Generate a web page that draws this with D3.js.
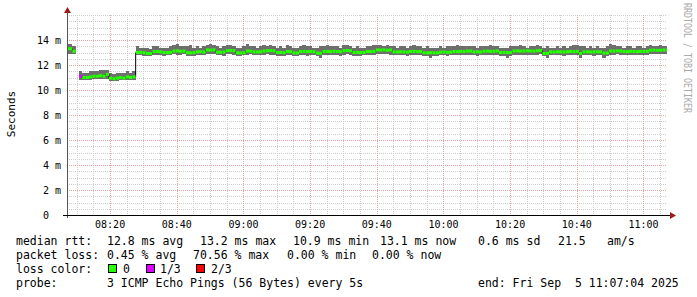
<!DOCTYPE html>
<html>
<head>
<meta charset="utf-8">
<script src="https://cdn.jsdelivr.net/npm/d3@7"></script>
<style>
  body { margin: 0; background: #fff; }
  text { font-family: "DejaVu Sans Mono", monospace; white-space: pre; }
</style>
</head>
<body>
<svg id="chart" width="697" height="297"></svg>
<script>
// ---- data (1 minute buckets, ms) ----
var firstSample = "2025-09-05T08:06:40Z";
var graphStart = "2025-09-05T08:07:04Z";
var graphEnd = "2025-09-05T11:07:04Z";

var median = [
  13.3, 13.3, 13.1, null,
  11.1, 11.0, 11.0, 11.05, 11.1, 11.1, 11.15, 11.1, 11.25, 10.95, 10.9, 10.95, 11.0, 10.95, 11.05, 11.0, 11.05,
  13.00, 13.02, 12.98, 12.93, 12.92, 13.07, 13.08, 13.05, 13.00, 12.99,
  13.01, 13.12, 13.13, 13.10, 13.11, 12.98, 12.97, 12.99, 13.05, 13.06,
  13.04, 13.20, 13.19, 13.21, 13.03, 13.02, 13.04, 13.15, 13.16, 13.14,
  12.97, 12.96, 12.98, 13.12, 13.11, 13.05, 13.04, 13.06, 13.12, 13.14,
  13.15, 13.13, 13.00, 13.01, 12.99, 13.08, 13.07, 12.97, 12.96, 13.08,
  13.09, 13.07, 13.08, 13.06, 12.95, 12.94, 13.08, 13.09, 13.07, 13.10,
  13.08, 13.06, 13.15, 13.16, 13.14, 13.00, 13.01, 12.99, 13.00, 13.08,
  13.07, 13.09, 13.20, 13.19, 13.21, 13.18, 13.20, 13.05, 13.04, 13.06,
  13.05, 13.03, 13.08, 13.09, 13.07, 13.08, 12.98, 12.97, 12.99, 12.98,
  12.97, 13.03, 13.04, 13.02, 13.03, 13.08, 13.07, 13.09, 13.08, 13.12,
  13.11, 13.05, 13.06, 13.04, 13.10, 13.11, 13.09, 13.10, 13.12, 13.00,
  13.01, 12.99, 13.00, 13.12, 13.13, 13.11, 13.12, 13.14, 13.12, 13.11,
  13.15, 13.16, 12.92, 12.93, 13.05, 13.04, 13.06, 13.05, 13.04, 13.06,
  13.08, 13.07, 13.09, 12.93, 13.05, 13.06, 13.04, 13.05, 13.06, 13.05,
  12.95, 12.96, 13.12, 13.11, 13.13, 13.12, 13.08, 13.07, 13.09, 13.08,
  13.07, 13.09, 13.08, 13.10, 13.18, 13.19, 13.17, 13.18, 13.20, 13.18
];

var rttMax = [
  13.7, 13.7, 13.5, null,
  11.5, 11.4, 11.4, 11.5, 11.5, 11.5, 11.6, 11.6, 11.6, 11.4, 11.3, 11.4, 11.4, 11.4, 11.5, 11.4, 11.5,
  13.5, 13.4, 13.4, 13.4, 13.3, 13.5, 13.5, 13.4, 13.4, 13.4,
  13.5, 13.6, 13.7, 13.5, 13.5, 13.5, 13.6, 13.4, 13.5, 13.4,
  13.5, 13.6, 13.7, 13.6, 13.5, 13.4, 13.5, 13.6, 13.6, 13.5,
  13.4, 13.4, 13.5, 13.7, 13.5, 13.5, 13.4, 13.5, 13.6, 13.5,
  13.6, 13.5, 13.4, 13.5, 13.4, 13.6, 13.5, 13.4, 13.4, 13.5,
  13.6, 13.5, 13.5, 13.4, 13.4, 13.5, 13.5, 13.6, 13.5, 13.5,
  13.5, 13.4, 13.6, 13.6, 13.5, 13.4, 13.5, 13.4, 13.4, 13.5,
  13.5, 13.6, 13.6, 13.6, 13.5, 13.6, 13.5, 13.5, 13.4, 13.5,
  13.5, 13.4, 13.5, 13.6, 13.5, 13.5, 13.4, 13.5, 13.4, 13.4,
  13.4, 13.5, 13.4, 13.5, 13.5, 13.5, 13.6, 13.5, 13.5, 13.5,
  13.5, 13.5, 13.4, 13.5, 13.5, 13.5, 13.6, 13.5, 13.5, 13.4,
  13.4, 13.4, 13.5, 13.5, 13.5, 13.6, 13.5, 13.4, 13.5, 13.5,
  13.6, 13.5, 13.4, 13.5, 13.4, 13.4, 13.5, 13.4, 13.5, 13.4,
  13.5, 13.6, 13.6, 13.5, 13.5, 13.4, 13.5, 13.4, 13.5, 13.4,
  13.4, 13.5, 13.7, 13.6, 13.5, 13.5, 13.4, 13.5, 13.5, 13.4,
  13.5, 13.5, 13.4, 13.5, 13.6, 13.5, 13.5, 13.6, 13.5, 13.5
];

var rttMin = [
  12.9, 12.9, 12.9, null,
  10.8, 10.8, 10.8, 10.8, 10.9, 10.9, 10.9, 10.9, 10.9, 10.7, 10.7, 10.7, 10.8, 10.8, 10.8, 10.8, 10.8,
  12.8, 12.8, 12.7, 12.7, 12.7, 12.8, 12.8, 12.8, 12.7, 12.8,
  12.8, 12.9, 12.8, 12.8, 12.9, 12.7, 12.7, 12.7, 12.8, 12.8,
  12.8, 12.9, 12.9, 12.9, 12.8, 12.8, 12.7, 12.9, 12.9, 12.8,
  12.7, 12.7, 12.8, 12.8, 12.9, 12.8, 12.8, 12.8, 12.8, 12.9,
  12.8, 12.8, 12.7, 12.7, 12.7, 12.8, 12.8, 12.7, 12.7, 12.8,
  12.8, 12.7, 12.8, 12.8, 12.7, 12.6, 12.8, 12.8, 12.8, 12.8,
  12.8, 12.7, 12.8, 12.9, 12.8, 12.7, 12.7, 12.7, 12.8, 12.8,
  12.8, 12.8, 12.9, 12.9, 12.9, 12.9, 12.8, 12.8, 12.8, 12.8,
  12.8, 12.7, 12.8, 12.8, 12.8, 12.8, 12.7, 12.7, 12.6, 12.7,
  12.7, 12.8, 12.8, 12.7, 12.8, 12.8, 12.8, 12.8, 12.8, 12.8,
  12.8, 12.8, 12.7, 12.8, 12.8, 12.8, 12.8, 12.8, 12.8, 12.7,
  12.7, 12.6, 12.7, 12.8, 12.8, 12.8, 12.8, 12.8, 12.8, 12.8,
  12.8, 12.9, 12.7, 12.6, 12.8, 12.8, 12.8, 12.8, 12.7, 12.8,
  12.8, 12.8, 12.8, 12.6, 12.8, 12.8, 12.8, 12.7, 12.8, 12.8,
  12.6, 12.7, 12.8, 12.8, 12.9, 12.8, 12.8, 12.8, 12.8, 12.8,
  12.8, 12.8, 12.8, 12.8, 12.9, 12.9, 12.9, 12.9, 12.9, 12.9
];

// buckets with lost pings: [bucket index, pings lost out of 3]
var lostPings = [[3, 3], [4, 1]];

var yTicks = [0, 2, 4, 6, 8, 10, 12, 14];
var lossLabels = ["0", "1/3", "2/3"];
var lossColors = ["#26ff00", "#dd00ff", "#ff0000"];

var legendRtt = ["median rtt:", "12.8 ms avg", "13.2 ms max", "10.9 ms min", "13.1 ms now", "0.6 ms sd", "21.5", "am/s"];
var legendLoss = ["packet loss:", "0.45 % avg", "70.56 % max", "0.00 % min", "0.00 % now"];
var legendProbe = ["probe:", "3 ICMP Echo Pings (56 Bytes) every 5s", "end: Fri Sep  5 11:07:04 2025"];

(function () {
  var svg = d3.select("#chart");
  var left = 67, right = 667, top = 15, bottom = 215;

  var x = d3.scaleUtc()
    .domain([new Date(graphStart), new Date(graphEnd)])
    .range([left, right]);
  var y = d3.scaleLinear().domain([0, 16]).range([bottom, top]);

  var t0 = new Date(firstSample).getTime();
  var lossOf = {};
  lostPings.forEach(function (d) { lossOf[d[0]] = d[1]; });
  var buckets = median.map(function (m, i) {
    return {
      t: new Date(t0 + i * 60000),
      t1: new Date(t0 + (i + 1) * 60000),
      med: m, hi: rttMax[i], lo: rttMin[i],
      loss: lossOf[i] || 0
    };
  });

  var px = function (v) { return Math.round(v) + 0.5; };

  // ---- grid ----
  var grid = svg.append("g");
  var minorT = x.ticks(d3.utcMinute.every(5));
  var majorT = x.ticks(d3.utcMinute.every(20));
  grid.selectAll(".vmin").data(minorT).join("line")
    .attr("x1", function (d) { return px(x(d)); }).attr("x2", function (d) { return px(x(d)); })
    .attr("y1", top).attr("y2", bottom)
    .attr("stroke", "#cfcfcf").attr("stroke-dasharray", "1,1");
  var minorV = d3.range(1, 33).map(function (i) { return i / 2; })
    .filter(function (v) { return yTicks.indexOf(v) < 0; });
  grid.selectAll(".hmin").data(minorV).join("line")
    .attr("y1", function (d) { return px(y(d)); }).attr("y2", function (d) { return px(y(d)); })
    .attr("x1", left).attr("x2", right)
    .attr("stroke", "#cfcfcf").attr("stroke-dasharray", "1,1");
  grid.selectAll(".vmaj").data(majorT).join("line")
    .attr("x1", function (d) { return px(x(d)); }).attr("x2", function (d) { return px(x(d)); })
    .attr("y1", top).attr("y2", bottom)
    .attr("stroke", "#e4a4a4").attr("stroke-dasharray", "1,1");
  grid.selectAll(".hmaj").data(yTicks.slice(1)).join("line")
    .attr("y1", function (d) { return px(y(d)); }).attr("y2", function (d) { return px(y(d)); })
    .attr("x1", left).attr("x2", right)
    .attr("stroke", "#e4a4a4").attr("stroke-dasharray", "1,1");

  // ---- smoke + median ----
  svg.append("clipPath").attr("id", "plot")
    .append("rect").attr("x", left).attr("y", top).attr("width", right - left).attr("height", bottom - top);
  var plot = svg.append("g").attr("clip-path", "url(#plot)");
  var valid = buckets.filter(function (d) { return d.med != null; });

  plot.selectAll(".smoke").data(valid).join("rect")
    .attr("x", function (d) { return x(d.t); })
    .attr("width", function (d) { return x(d.t1) - x(d.t); })
    .attr("y", function (d) { return y(d.hi); })
    .attr("height", function (d) { return y(d.lo) - y(d.hi); })
    .attr("fill", "#6e6e6e")
    .attr("shape-rendering", "crispEdges");

  plot.append("path")
    .datum(buckets)
    .attr("d", d3.line()
      .defined(function (d) { return d.med != null; })
      .x(function (d) { return x(d.t); })
      .y(function (d) { return y(d.med); })
      .curve(d3.curveStepAfter))
    .attr("fill", "none").attr("stroke", "#000").attr("stroke-width", 1);

  plot.selectAll(".med").data(valid).join("rect")
    .attr("x", function (d) { return x(d.t); })
    .attr("width", function (d) { return x(d.t1) - x(d.t); })
    .attr("y", function (d) { return y(d.med) - 1.5; })
    .attr("height", 3)
    .attr("fill", function (d) { return lossColors[d.loss]; });

  // ---- axes ----
  svg.append("line").attr("x1", left + 0.5).attr("x2", left + 0.5).attr("y1", 218).attr("y2", 12)
    .attr("stroke", "#555");
  svg.append("line").attr("x1", 63).attr("x2", 671).attr("y1", bottom + 0.5).attr("y2", bottom + 0.5)
    .attr("stroke", "#000");
  svg.append("path").attr("d", "M" + (left - 3) + ",13 L" + (left + 4) + ",13 L" + (left + 0.5) + ",7 Z")
    .attr("fill", "#9b1c1c");
  svg.append("path").attr("d", "M670," + (bottom - 3) + " L670," + (bottom + 4) + " L676," + (bottom + 0.5) + " Z")
    .attr("fill", "#9b1c1c");

  svg.append("g").selectAll("text").data(majorT).join("text")
    .attr("x", function (d) { return x(d); })
    .attr("y", 228)
    .attr("text-anchor", "middle")
    .attr("font-size", "10px")
    .text(d3.utcFormat("%H:%M"));

  svg.append("g").selectAll("text").data(yTicks).join("text")
    .attr("x", 61)
    .attr("y", function (d) { return y(d) + 3.5; })
    .attr("text-anchor", "end")
    .attr("font-size", "10px")
    .text(function (d) { return d === 0 ? "0  " : d + " m"; });

  svg.append("text")
    .attr("transform", "translate(15,114) rotate(-90)")
    .attr("text-anchor", "middle")
    .attr("font-size", "11px")
    .text("Seconds");

  svg.append("text")
    .attr("transform", "translate(684,3) rotate(90)")
    .attr("font-size", "10px")
    .attr("fill", "#aaa")
    .attr("textLength", 110)
    .attr("lengthAdjust", "spacingAndGlyphs")
    .text("RRDTOOL / TOBI OETIKER");

  // ---- legend ----
  var legend = svg.append("g").attr("font-size", "11.5px").attr("fill", "#000");
  var rowY = [245, 259, 273, 287];
  var rttX = [16, 107, 200, 293, 380, 478, 558, 607];
  var lossX = [16, 107, 193, 287, 372];
  var probeX = [16, 107, 478];
  legend.selectAll(".r1").data(legendRtt).join("text")
    .attr("x", function (d, i) { return rttX[i]; }).attr("y", rowY[0]).text(function (d) { return d; });
  legend.selectAll(".r2").data(legendLoss).join("text")
    .attr("x", function (d, i) { return lossX[i]; }).attr("y", rowY[1]).text(function (d) { return d; });
  legend.append("text").attr("x", 16).attr("y", rowY[2]).text("loss color:");
  var boxX = [108, 146, 196];
  var lblX = [123, 160, 211];
  lossLabels.forEach(function (l, i) {
    legend.append("rect").attr("x", boxX[i] + 0.5).attr("y", 264.5).attr("width", 8).attr("height", 8)
      .attr("fill", lossColors[i]).attr("stroke", "#000").attr("stroke-width", 1);
    legend.append("text").attr("x", lblX[i]).attr("y", rowY[2]).text(l);
  });
  legend.selectAll(".r4").data(legendProbe).join("text")
    .attr("x", function (d, i) { return probeX[i]; }).attr("y", rowY[3]).text(function (d) { return d; });
})();
</script>
</body>
</html>
